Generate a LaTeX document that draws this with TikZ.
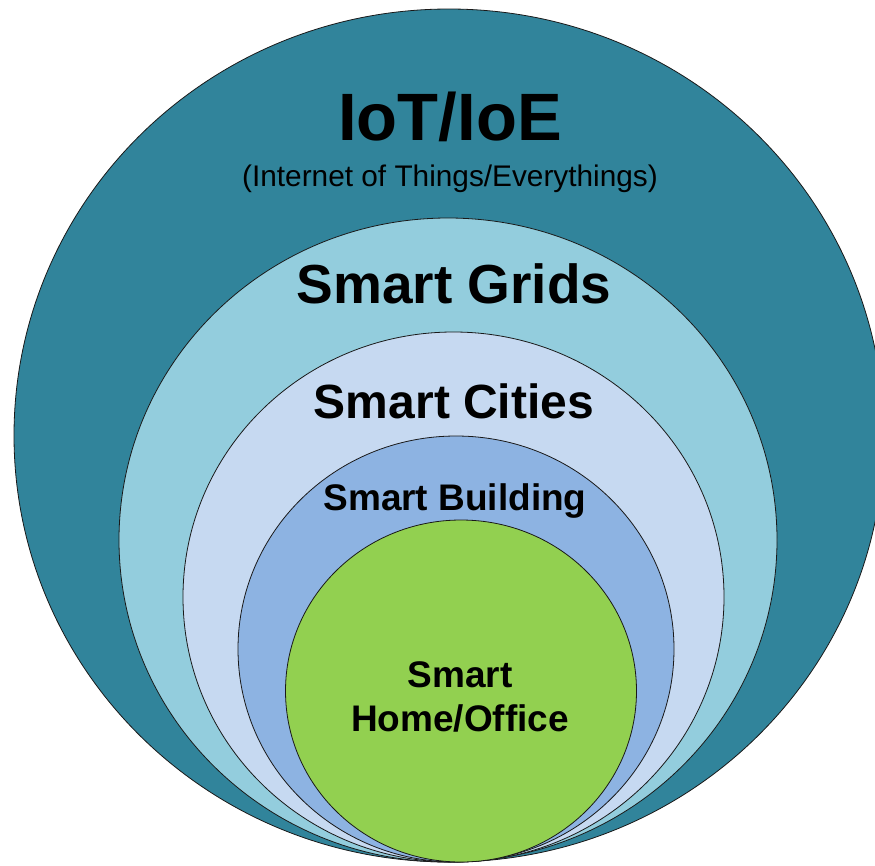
\documentclass[tikz,border=0pt]{standalone}
\usepackage{fontspec}
\setmainfont{Liberation Sans}
\usetikzlibrary{shapes.geometric}
\definecolor{ioecol}{HTML}{31849B}
\definecolor{gridcol}{HTML}{93CDDD}
\definecolor{citycol}{HTML}{C6D9F1}
\definecolor{buildcol}{HTML}{8DB3E2}
\definecolor{homecol}{HTML}{92D050}
\tikzset{
  ring/.style={ellipse, draw=black!90, line width=0.8pt, inner sep=0pt},
  lbl/.style={anchor=base, font=\bfseries\fontsize{#1}{#1}\selectfont}
}
\begin{document}
\begin{tikzpicture}[x=1pt,y=-1pt]
        \useasboundingbox (0,0) rectangle (875,865);
        \clip (0,0) rectangle (875,865);

        % Nested rings, outermost first
        \foreach \name/\cx/\cy/\w/\h/\col in {ioe/449/435.5/870/853/ioecol,
            grids/448/540/658/644/gridcol,
            cities/453.5/597/541/530/citycol,
            building/456/649/436/426/buildcol,
            home/461/691/351/342/homecol}
          \node[ring, fill=\col, minimum width=\w pt, minimum height=\h pt] (\name) at (\cx,\cy) {};

        % Labels
        \node[lbl=67] (ioetitle) at (450,140) {IoT/IoE};
        \node[anchor=base, font=\fontsize{29.8}{29.8}\selectfont] (ioesub) at (450,186) {(Internet of Things/Everythings)};
        \node[lbl=55] (gridslbl) at (454,303) {Smart Grids};
        \node[lbl=48] (citieslbl) at (454,418) {Smart Cities};
        \node[lbl=37] (buildinglbl) at (455,510) {Smart Building};
        \node[lbl=37] (homelbl) at (460,687) {Smart};
        \node[lbl=37] (officelbl) at (460,731) {Home/Office};
      \end{tikzpicture}
\end{document}
